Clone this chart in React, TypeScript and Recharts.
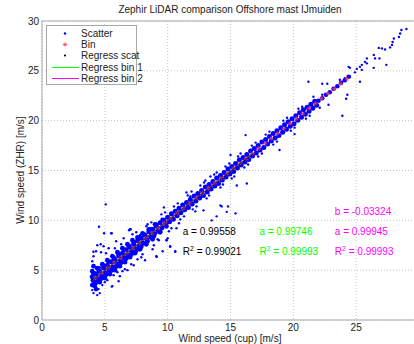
import React from "react";
import { ScatterChart, Scatter, XAxis, YAxis, CartesianGrid, ReferenceLine } from "recharts";

// axis ticks (the 30 on x lies past the cropped right edge)
const xTicks = [0, 5, 10, 15, 20, 25];
const yTicks = [0, 5, 10, 15, 20, 25, 30];

// dense core of the scatter cloud (upper / lower strands)
const coreA: [number, number][] = [
  [4.0, 4.35], [4.3, 4.65], [4.6, 4.9], [4.9, 5.25], [5.2, 5.5], [5.5, 5.85], [5.8, 6.1], [6.1, 6.45], [6.4, 6.7], [6.7, 7.05],
  [7.0, 7.3], [7.3, 7.6], [7.6, 7.95], [7.9, 8.2], [8.2, 8.5], [8.5, 8.85], [8.8, 9.1], [9.1, 9.4], [9.4, 9.75], [9.7, 10.0],
  [10.0, 10.3], [10.3, 10.65], [10.6, 10.9], [10.9, 11.2], [11.2, 11.55], [11.5, 11.8], [11.8, 12.1], [12.1, 12.45], [12.4, 12.7], [12.7, 13.0],
  [13.0, 13.35], [13.3, 13.6], [13.6, 13.9], [13.9, 14.25], [14.2, 14.5], [14.5, 14.8], [14.8, 15.15], [15.1, 15.4], [15.4, 15.7], [15.7, 16.05],
  [16.0, 16.3], [16.3, 16.6], [16.6, 16.95], [16.9, 17.2], [17.2, 17.5], [17.5, 17.85], [17.8, 18.1], [18.1, 18.4], [18.4, 18.7], [18.7, 19.0],
  [19.0, 19.3], [19.3, 19.6], [19.6, 19.9], [19.9, 20.2], [20.2, 20.5], [20.5, 20.8], [20.8, 21.1], [21.1, 21.35], [21.4, 21.65], [21.7, 21.95],
];
const coreB: [number, number][] = [
  [4.15, 3.85], [4.45, 4.15], [4.75, 4.45], [5.05, 4.75], [5.35, 5.05], [5.65, 5.3], [5.95, 5.65], [6.25, 5.95], [6.55, 6.25], [6.85, 6.5],
  [7.15, 6.85], [7.45, 7.15], [7.75, 7.45], [8.05, 7.7], [8.35, 8.05], [8.65, 8.35], [8.95, 8.65], [9.25, 8.9], [9.55, 9.25], [9.85, 9.55],
  [10.15, 9.85], [10.45, 10.1], [10.75, 10.45], [11.05, 10.75], [11.35, 11.05], [11.65, 11.3], [11.95, 11.65], [12.25, 11.95], [12.55, 12.25], [12.85, 12.5],
  [13.15, 12.85], [13.45, 13.15], [13.75, 13.45], [14.05, 13.7], [14.35, 14.05], [14.65, 14.35], [14.95, 14.65], [15.25, 14.9], [15.55, 15.25], [15.85, 15.55],
  [16.15, 15.85], [16.45, 16.1], [16.75, 16.45], [17.05, 16.75], [17.35, 17.05], [17.65, 17.3], [17.95, 17.65], [18.25, 17.95], [18.55, 18.25], [18.85, 18.5],
  [19.15, 18.85], [19.45, 19.15], [19.75, 19.45], [20.05, 19.7], [20.35, 20.05], [20.65, 20.35], [20.95, 20.65], [21.25, 20.95], [21.55, 21.25], [21.85, 21.55],
];
// wider part of the cloud at low wind speeds
const coreLow: [number, number][] = [
  [4.0, 4.9], [4.4, 5.2], [4.8, 5.6], [5.2, 6.0], [5.6, 6.4], [6.0, 6.8], [6.4, 7.2], [6.8, 7.6], [7.2, 8.0], [7.6, 8.3], [8.0, 8.7], [8.5, 9.1], [9.0, 9.6],
  [4.2, 3.4], [4.6, 3.8], [5.0, 4.2], [5.4, 4.6], [5.8, 5.0], [6.2, 5.4], [6.6, 5.8], [7.0, 6.3], [7.4, 6.7], [7.8, 7.1], [8.3, 7.6], [8.8, 8.1], [9.4, 8.8],
  [4.1, 5.4], [4.3, 3.1], [4.05, 4.0], [4.2, 4.6], [4.0, 3.5],
  [4.1, 4.7], [4.5, 5.05], [4.9, 5.45], [5.3, 5.85], [5.7, 6.25], [6.1, 6.65], [6.5, 7.05], [6.9, 7.45], [7.3, 7.8], [7.7, 8.2], [8.1, 8.6], [8.6, 9.1], [9.1, 9.55], [9.6, 10.05],
  [4.3, 3.75], [4.7, 4.15], [5.1, 4.55], [5.5, 4.95], [5.9, 5.35], [6.3, 5.75], [6.7, 6.15], [7.1, 6.55], [7.5, 6.95], [7.9, 7.35], [8.4, 7.9], [8.9, 8.4], [9.4, 8.9], [9.9, 9.4],
];
// thinner part of the cloud above 22 m/s
const coreHigh: [number, number][] = [
  [22.0, 22.0], [22.3, 22.25], [22.6, 22.6], [22.9, 22.85], [23.2, 23.2], [23.5, 23.45], [23.8, 23.8], [24.1, 24.05], [24.4, 24.4],
];
// loose points around the cloud
const scatterLoose: [number, number][] = [
  [4.0, 3.0], [4.1, 2.7], [4.2, 3.4], [4.0, 5.9], [4.1, 6.4], [4.3, 6.9], [4.4, 2.5], [4.5, 3.1], [4.6, 5.3], [4.7, 6.8],
  [4.8, 3.5], [4.9, 7.4], [5.0, 3.8], [5.2, 4.0], [5.3, 7.2], [5.5, 8.7], [5.6, 3.4], [5.7, 4.5], [5.9, 7.9], [6.0, 4.8],
  [6.2, 4.4], [6.3, 7.6], [6.5, 8.2], [6.6, 5.1], [6.8, 5.0], [7.0, 9.1], [7.1, 5.6], [7.3, 5.5], [7.5, 8.8], [7.8, 8.5],
  [8.0, 6.6], [8.2, 6.0], [8.4, 9.6], [8.6, 8.7], [8.8, 7.1], [9.1, 6.4], [9.3, 8.0], [9.6, 6.9], [9.9, 8.0], [10.0, 8.2],
  [10.2, 7.4], [10.6, 6.9], [10.7, 9.2], [4.6, 2.7], [4.35, 3.7], [5.1, 6.7], [5.55, 3.35], [4.09, 6.85], [4.67, 7.6], [7.8, 8.5],
  [8.6, 8.7], [9.13, 6.35], [7.06, 9.1], [5.55, 8.7], [5.07, 11.6], [4.54, 9.36], [4.94, 8.7], [4.4, 7.5], [6.93, 9.0],
  [10.5, 11.4], [11.0, 10.1], [11.6, 12.5], [12.0, 11.1], [12.6, 13.5], [13.1, 12.2], [13.7, 14.6], [14.2, 13.3], [14.9, 15.7], [15.3, 14.4],
  [15.8, 16.7], [16.4, 15.6], [17.0, 17.8], [17.5, 16.7], [18.1, 18.9], [18.7, 17.9], [19.2, 20.0], [19.8, 19.0], [20.4, 21.2], [21.0, 20.2],
  [21.6, 22.4], [22.1, 21.3], [8.7, 9.8], [9.2, 8.1], [9.8, 10.8], [10.3, 9.2],
  [10.8, 11.7], [11.3, 10.4], [11.9, 12.9], [12.3, 11.4], [12.9, 13.8], [13.3, 12.5], [13.9, 14.8], [14.4, 13.6], [14.6, 15.4], [15.1, 14.2],
  [15.6, 16.4], [16.1, 15.3], [16.7, 17.5], [17.2, 16.4], [17.8, 18.6], [18.4, 17.6], [19.5, 20.3], [20.1, 19.3], [20.7, 21.4], [21.3, 20.5],
  [5.8, 7.2], [6.4, 4.9], [7.2, 8.6], [7.6, 6.1], [8.3, 9.4], [8.9, 7.5], [9.5, 10.6], [10.1, 8.9], [10.9, 9.7], [11.5, 12.8],
  [12.2, 10.9], [6.1, 3.9], [7.9, 6.3], [9.7, 11.3],
  [13.0, 14.0], [13.4, 14.4], [15.0, 16.55], [16.2, 18.55], [11.8, 12.4], [12.85, 11.0], [13.5, 10.0], [13.9, 10.4], [14.3, 11.4], [14.8, 11.4],
  [15.4, 10.7], [15.5, 13.5], [16.3, 13.7], [14.2, 11.5], [14.7, 10.85], [10.6, 6.85], [10.2, 7.35], [9.93, 8.0],
  [18.9, 17.05], [20.1, 18.65], [21.2, 23.9], [22.3, 23.7], [22.7, 23.7], [22.3, 22.6], [22.8, 21.6], [23.9, 20.5], [24.2, 22.2], [24.3, 22.6],
  [25.3, 23.9], [24.4, 25.4], [25.05, 25.2], [25.3, 25.4], [25.45, 25.1], [25.85, 25.75], [29.0, 29.2], [28.6, 29.1], [28.5, 28.75], [28.4, 28.4],
  [28.0, 28.25], [27.9, 27.9], [27.85, 27.6], [27.7, 27.35], [27.3, 27.15], [26.8, 27.3], [27.05, 27.25], [26.4, 26.6], [26.5, 26.25], [26.85, 26.25],
  [25.85, 26.25], [25.7, 25.9], [27.4, 25.6], [26.4, 25.3], [25.45, 25.6], [24.5, 25.3], [24.9, 24.85], [24.5, 24.4], [24.1, 24.25], [23.7, 24.1],
];
// bin averages
const bins: [number, number][] = [
  [4.25, 4.22], [4.75, 4.73], [5.25, 5.23], [5.75, 5.73], [6.25, 6.23], [6.75, 6.73], [7.25, 7.22], [7.75, 7.72], [8.25, 8.22], [8.75, 8.72],
  [9.25, 9.22], [9.75, 9.72], [10.25, 10.22], [10.75, 10.72], [11.25, 11.22], [11.75, 11.72], [12.25, 12.22], [12.75, 12.72], [13.25, 13.22], [13.75, 13.72],
  [14.25, 14.22], [14.75, 14.72], [15.25, 15.22], [15.75, 15.72], [16.25, 16.22], [16.75, 16.72], [17.25, 17.22], [17.75, 17.72], [18.25, 18.22], [18.75, 18.72],
  [19.25, 19.22], [19.75, 19.72], [20.25, 20.22], [20.75, 20.72], [21.25, 21.22], [21.75, 21.72], [22.25, 22.22], [22.75, 22.72], [23.25, 23.2], [23.75, 23.72],
  [24.25, 24.2],
];
// regression lines (end points)
const regScat: [number, number][] = [[4, 3.98], [16.8, 16.73]];
const regBin1: [number, number][] = [[4, 3.99], [16.8, 16.76]];
const regBin2: [number, number][] = [[4, 3.96], [16.8, 16.76]];

// fit results
const notes = [
  { x: 23.3, y: 10.9, label: "b = -0.03324", color: "#ff00ff", sup: false },
  { x: 11.2, y: 8.9, label: "a = 0.99558", color: "#000000", sup: false },
  { x: 17.3, y: 8.9, label: "a = 0.99746", color: "#00ff00", sup: false },
  { x: 23.3, y: 8.9, label: "a = 0.99945", color: "#ff00ff", sup: false },
  { x: 11.2, y: 6.9, label: " = 0.99021", color: "#000000", sup: true },
  { x: 17.3, y: 6.9, label: " = 0.99993", color: "#00ff00", sup: true },
  { x: 23.3, y: 6.9, label: " = 0.99993", color: "#ff00ff", sup: true },
];

const pts = (a: [number, number][]) => a.map(([x, y]) => ({ x, y }));
const FONT = "'Liberation Sans', Arial, sans-serif";
const AXIS = "#a8a8a8";

const Dot = (r: number) => (p: any) => <circle cx={p.cx} cy={p.cy} r={r} fill="#0000ff" />;
const Star = (p: any) => (
  <g stroke="#ff3050" strokeWidth={0.7}>
    <line x1={p.cx - 2.2} y1={p.cy} x2={p.cx + 2.2} y2={p.cy} />
    <line x1={p.cx} y1={p.cy - 2.2} x2={p.cx} y2={p.cy + 2.2} />
    <line x1={p.cx - 1.6} y1={p.cy - 1.6} x2={p.cx + 1.6} y2={p.cy + 1.6} />
    <line x1={p.cx - 1.6} y1={p.cy + 1.6} x2={p.cx + 1.6} y2={p.cy - 1.6} />
  </g>
);
const NoShape = () => <g />;
const NoteText = (p: any) => {
  const d = p.payload ?? p;
  return (
    <text x={p.cx} y={p.cy} dy="0.35em" fill={d.color} fontSize={10} fontFamily={FONT}>
      {d.sup ? (
        <>
          <tspan>R</tspan>
          <tspan dy={-4} fontSize={7}>2</tspan>
          <tspan dy={4}>{d.label}</tspan>
        </>
      ) : (
        d.label
      )}
    </text>
  );
};

function LegendBox() {
  const rows = [
    { name: "Scatter", icon: <circle cx={18} cy={5.5} r={1.2} fill="#0000ff" /> },
    { name: "Bin", icon: <Star cx={18} cy={5.5} /> },
    { name: "Regress scat", icon: <circle cx={18} cy={5.5} r={1.1} fill="#000" /> },
    { name: "Regress bin 1", icon: <line x1={5} y1={5.5} x2={32} y2={5.5} stroke="#00ff00" /> },
    { name: "Regress bin 2", icon: <line x1={5} y1={5.5} x2={32} y2={5.5} stroke="#ff00ff" /> },
  ];
  return (
    <div
      style={{
        position: "absolute", left: 46, top: 25, width: 91, height: 60, boxSizing: "border-box",
        border: `1px solid ${AXIS}`, background: "#fff", paddingTop: 2, fontSize: 10, fontFamily: FONT, color: "#222",
      }}
    >
      {rows.map((r) => (
        <div key={r.name} style={{ display: "flex", alignItems: "center", height: 11.2 }}>
          <svg width={34} height={11} style={{ flex: "none" }}>{r.icon}</svg>
          <span style={{ whiteSpace: "nowrap", lineHeight: "11px" }}>{r.name}</span>
        </div>
      ))}
    </div>
  );
}

export default function App() {
  return (
    <div style={{ position: "absolute", left: 0, top: 0, width: 414, height: 344, overflow: "hidden", background: "#fff", fontFamily: FONT }}>
      <div style={{ position: "absolute", left: 0, top: 0, width: 414, height: 344 }}>
        <ScatterChart width={430} height={344} margin={{ top: 21, right: 11, bottom: 0, left: 0 }}>
          <CartesianGrid stroke="#c4c4c4" strokeDasharray="1 2" />
          <XAxis
            type="number" dataKey="x" domain={[0, 30]} ticks={xTicks} height={24}
            axisLine={{ stroke: AXIS }} tickLine={false} tickSize={2} tickMargin={2}
            tick={{ fontSize: 10, fill: "#222", fontFamily: FONT }} allowDataOverflow
          />
          <YAxis
            type="number" dataKey="y" domain={[0, 30]} ticks={yTicks} width={42}
            axisLine={{ stroke: AXIS }} tickLine={false} tickSize={1} tickMargin={2}
            tick={{ fontSize: 10, fill: "#222", fontFamily: FONT }} allowDataOverflow
          />
          <ReferenceLine y={30} stroke={AXIS} />
          <ReferenceLine x={30} stroke={AXIS} />
          <Scatter data={pts(coreLow)} shape={Dot(2.4)} isAnimationActive={false} />
          <Scatter data={pts(coreA)} shape={Dot(2.5)} isAnimationActive={false} />
          <Scatter data={pts(coreB)} shape={Dot(2.5)} isAnimationActive={false} />
          <Scatter data={pts(coreHigh)} shape={Dot(2.3)} isAnimationActive={false} />
          <Scatter data={pts(scatterLoose)} shape={Dot(1.2)} isAnimationActive={false} />
          <Scatter data={pts(bins)} shape={Star} isAnimationActive={false} />
          <Scatter data={pts(regScat)} line={{ stroke: "#000", strokeWidth: 1.2 }} shape={NoShape} isAnimationActive={false} />
          <Scatter data={pts(regBin1)} line={{ stroke: "#00ff00", strokeWidth: 0.4 }} shape={NoShape} isAnimationActive={false} />
          <Scatter data={pts(regBin2)} line={{ stroke: "#ff00ff", strokeWidth: 0.5 }} shape={NoShape} isAnimationActive={false} />
          <Scatter data={notes} shape={NoteText} isAnimationActive={false} />
        </ScatterChart>
      </div>
      <div style={{ position: "absolute", left: 0, top: 4, width: 460, textAlign: "center", fontSize: 10, color: "#222" }}>
        Zephir LiDAR comparison Offshore mast IJmuiden
      </div>
      <div
        style={{
          position: "absolute", left: 20, top: 170, transform: "translate(-50%, -50%) rotate(-90deg)",
          fontSize: 10, color: "#222", whiteSpace: "nowrap",
        }}
      >
        Wind speed (ZHR) [m/s]
      </div>
      <div style={{ position: "absolute", left: 0, top: 333, width: 460, textAlign: "center", fontSize: 10, color: "#222" }}>
        Wind speed (cup) [m/s]
      </div>
      <LegendBox />
    </div>
  );
}
